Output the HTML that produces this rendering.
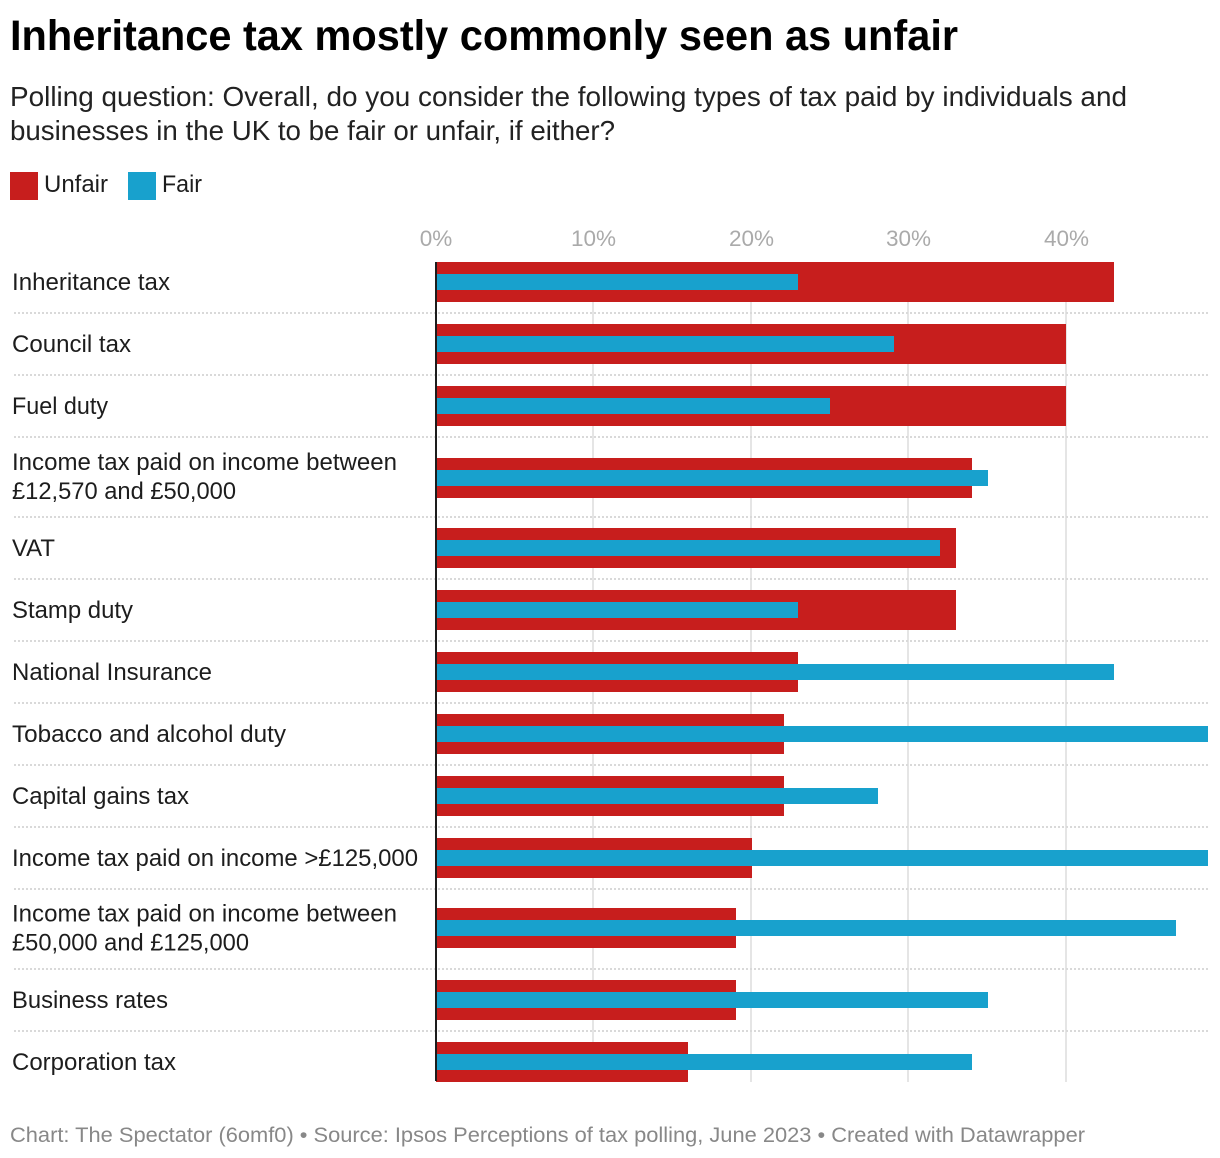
<!DOCTYPE html>
<html lang="en">
<head>
<meta charset="utf-8">
<title>Inheritance tax mostly commonly seen as unfair</title>
<style>
  html, body { margin: 0; padding: 0; background: #fff; }
  body { width: 1220px; height: 1158px; overflow: hidden; }
  svg { display: block; font-family: "Liberation Sans", Arial, sans-serif; }
  .label { font-size: 24px; fill: #1d1d1d; }
  .tick { font-size: 22.5px; fill: #aaaaaa; }
</style>
</head>
<body>
<svg id="chart" xmlns="http://www.w3.org/2000/svg" width="1220" height="1158" viewBox="0 0 1220 1158">
  <text x="10" y="50" font-size="43" font-weight="700" fill="#000" textLength="948" lengthAdjust="spacingAndGlyphs">Inheritance tax mostly commonly seen as unfair</text>
  <text x="10" y="106" font-size="28" fill="#222" textLength="1117" lengthAdjust="spacingAndGlyphs">Polling question: Overall, do you consider the following types of tax paid by individuals and</text>
  <text x="10" y="140" font-size="28" fill="#222" textLength="605" lengthAdjust="spacingAndGlyphs">businesses in the UK to be fair or unfair, if either?</text>

  <g>
    <rect x="10" y="172" width="28" height="28" fill="#c71e1d"/>
    <text x="44" y="192" font-size="24" fill="#1d1d1d" textLength="64" lengthAdjust="spacingAndGlyphs">Unfair</text>
    <rect x="128" y="172" width="28" height="28" fill="#18a1cd"/>
    <text x="162" y="192" font-size="24" fill="#1d1d1d" textLength="40" lengthAdjust="spacingAndGlyphs">Fair</text>
  </g>

  <g id="grid"></g>
  <g id="ticks"></g>
  <g id="dividers"></g>
  <g id="labels"></g>
  <g id="bars"></g>
  <rect x="435" y="262" width="2" height="819" fill="#1d1d1d"/>

  <text x="10" y="1142" font-size="21.5" fill="#888888" textLength="1075" lengthAdjust="spacingAndGlyphs">Chart: The Spectator (6omf0) • Source: Ipsos Perceptions of tax polling, June 2023 • Created with Datawrapper</text>
</svg>

<script>
const categories = [
  ["Inheritance tax"],
  ["Council tax"],
  ["Fuel duty"],
  ["Income tax paid on income between", "£12,570 and £50,000"],
  ["VAT"],
  ["Stamp duty"],
  ["National Insurance"],
  ["Tobacco and alcohol duty"],
  ["Capital gains tax"],
  ["Income tax paid on income >£125,000"],
  ["Income tax paid on income between", "£50,000 and £125,000"],
  ["Business rates"],
  ["Corporation tax"]
];
const unfairValues = [43, 40, 40, 34, 33, 33, 23, 22.1, 22.1, 20, 19, 19, 16];
const fairValues = [23, 29, 25, 35, 32, 23, 43, 49, 28, 49, 47, 35, 34];
const tickValues = [0, 10, 20, 30, 40];
const tickSuffix = "%";

const SVG_NS = "http://www.w3.org/2000/svg";
const X_ZERO = 436;
const X_RIGHT = 1208;
const ROW_START = 251;
const ROW_ONE_LINE = 62;
const ROW_TWO_LINE = 80;
const UNFAIR_HEIGHT = 40;
const FAIR_HEIGHT = 16;
const LINE_GAP = 29;

/* Fitted rendered widths, so Liberation Sans occupies the reference text extents. */
const labelFit = {
  "Inheritance tax": 158,
  "Council tax": 119,
  "Fuel duty": 96,
  "Income tax paid on income between": 385,
  "£12,570 and £50,000": 224,
  "VAT": 43,
  "Stamp duty": 121,
  "National Insurance": 200,
  "Tobacco and alcohol duty": 274,
  "Capital gains tax": 177,
  "Income tax paid on income >£125,000": 406,
  "£50,000 and £125,000": 237,
  "Business rates": 156,
  "Corporation tax": 164
};

/* Bars snap to the 2px device grid of the reference (610 CSS px at 2x). */
function xBar(value) {
  return Math.min(X_RIGHT, 2 * Math.round(X_ZERO / 2 + value * 7.88));
}

function xTick(value) {
  return Math.floor(X_ZERO + value * 15.75);
}

function make(tag, attrs, parent) {
  const el = document.createElementNS(SVG_NS, tag);
  Object.keys(attrs).forEach(function (k) { el.setAttribute(k, attrs[k]); });
  parent.appendChild(el);
  return el;
}

const gridGroup = document.getElementById("grid");
const tickGroup = document.getElementById("ticks");
const dividerGroup = document.getElementById("dividers");
const labelGroup = document.getElementById("labels");
const barGroup = document.getElementById("bars");

tickValues.forEach(function (t) {
  const x = xTick(t);
  if (t !== 0) {
    const line = make("rect", { x: x - 1, y: 262, width: 2, height: 820, fill: "#e5e5e5" }, gridGroup);
    
    
  }
  const text = make("text", { x: x + (t === 0 ? 0 : 0.5), y: 246, "text-anchor": "middle", class: "tick" }, tickGroup);
  
  
  text.textContent = t + tickSuffix;
});

let rowTop = ROW_START;
categories.forEach(function (lines, i) {
  const rowHeight = lines.length > 1 ? ROW_TWO_LINE : ROW_ONE_LINE;
  const center = rowTop + rowHeight / 2 + (i === 3 ? 1 : 0) + (i === 10 ? -1 : 0);

  lines.forEach(function (line, j) {
    const baseline = center + 8 + (j - (lines.length - 1) / 2) * LINE_GAP + (i === 3 ? -1.5 : 0);
    const text = make("text", {
      x: 12,
      y: baseline,
      class: "label",
      textLength: labelFit[line],
      lengthAdjust: "spacingAndGlyphs"
    }, labelGroup);
    
    
    text.textContent = line;
  });

  const unfair = make("rect", {
    x: X_ZERO,
    y: center - UNFAIR_HEIGHT / 2,
    width: xBar(unfairValues[i]) - X_ZERO,
    height: UNFAIR_HEIGHT,
    fill: "#c71e1d",
    "shape-rendering": "crispEdges"
  }, barGroup);
  
  

  const fair = make("rect", {
    x: X_ZERO,
    y: center - FAIR_HEIGHT / 2,
    width: xBar(fairValues[i]) - X_ZERO,
    height: FAIR_HEIGHT,
    fill: "#18a1cd",
    "shape-rendering": "crispEdges"
  }, barGroup);
  
  

  rowTop += rowHeight;
  if (i < categories.length - 1) {
    const divider = make("line", {
      x1: 14, x2: X_RIGHT, y1: rowTop, y2: rowTop,
      stroke: "#d9d9d9", "stroke-width": 2, "stroke-dasharray": "2 2",
      "shape-rendering": "crispEdges"
    }, dividerGroup);
    
    
  }
});
</script>
</body>
</html>
